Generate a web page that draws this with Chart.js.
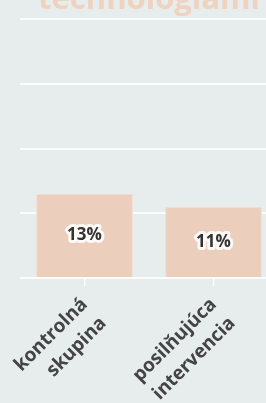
<!DOCTYPE html>
<html>
<head>
<meta charset="utf-8">
<script src="https://cdn.jsdelivr.net/npm/chart.js@4"></script>
<style>
  html, body { margin:0; padding:0; background:#e7eced; }
  #wrap { position:relative; width:266px; height:403px; overflow:hidden; background:#e7eced; }
  #c { position:absolute; left:0; top:-30px; }
</style>
</head>
<body>
<div id="wrap"><canvas id="c" width="300" height="453"></canvas></div>
<script>
const titleText = 'technologiami';
const categories = [['kontrolná', 'skupina'], ['posilňujúca', 'intervencia']];
const values = [13, 11];
const valueLabels = ['13%', '11%'];
const yTicks = [0, 10, 20, 30, 40];

const barLabels = {
  id: 'barLabels',
  afterDatasetsDraw(chart) {
    const ctx = chart.ctx;
    const meta = chart.getDatasetMeta(0);
    ctx.save();
    ctx.font = 'bold 17px "Open Sans"';
    ctx.textAlign = 'center';
    ctx.textBaseline = 'middle';
    ctx.lineJoin = 'round';
    meta.data.forEach((bar, i) => {
      const y = (bar.y + bar.base) / 2;
      ctx.strokeStyle = 'rgba(255,255,255,0.85)';
      ctx.lineWidth = 6;
      ctx.strokeText(valueLabels[i], bar.x, y);
      ctx.fillStyle = '#333333';
      ctx.fillText(valueLabels[i], bar.x, y);
    });
    ctx.restore();
  }
};

new Chart(document.getElementById('c'), {
  type: 'bar',
  data: {
    labels: categories,
    datasets: [{
      data: values,
      backgroundColor: '#ebcfbc',
      borderColor: '#f1ddd0',
      borderWidth: 1,
      categoryPercentage: 1,
      barPercentage: 0.75
    }]
  },
  options: {
    responsive: false,
    devicePixelRatio: 1,
    animation: false,
    layout: { padding: { left: 20, right: 22, bottom: 10, top: 0 } },
    plugins: {
      legend: { display: false },
      tooltip: { enabled: false },
      title: {
        display: true,
        text: titleText,
        color: '#efd3bf',
        font: { family: '"Open Sans"', size: 31, weight: 'bold' },
        padding: { top: 12, bottom: 0 }
      }
    },
    scales: {
      x: {
        grid: { display: true, drawOnChartArea: false, drawTicks: true, tickLength: 8, offset: false, color: 'rgba(255,255,255,0.85)', lineWidth: 1.5 },
        border: { display: false },
        ticks: {
          minRotation: 45, maxRotation: 45,
          color: '#444444',
          padding: 6,
          font: { family: '"Open Sans"', size: 19, weight: 'bold', lineHeight: 1.4 }
        }
      },
      y: {
        min: yTicks[0], max: yTicks[yTicks.length - 1],
        afterBuildTicks(scale) { scale.ticks = yTicks.map(v => ({ value: v })); },
        grid: { color: 'rgba(255,255,255,0.85)', lineWidth: 2, drawTicks: false },
        border: { display: false },
        ticks: { display: false }
      }
    }
  },
  plugins: [barLabels]
});
</script>
</body>
</html>
